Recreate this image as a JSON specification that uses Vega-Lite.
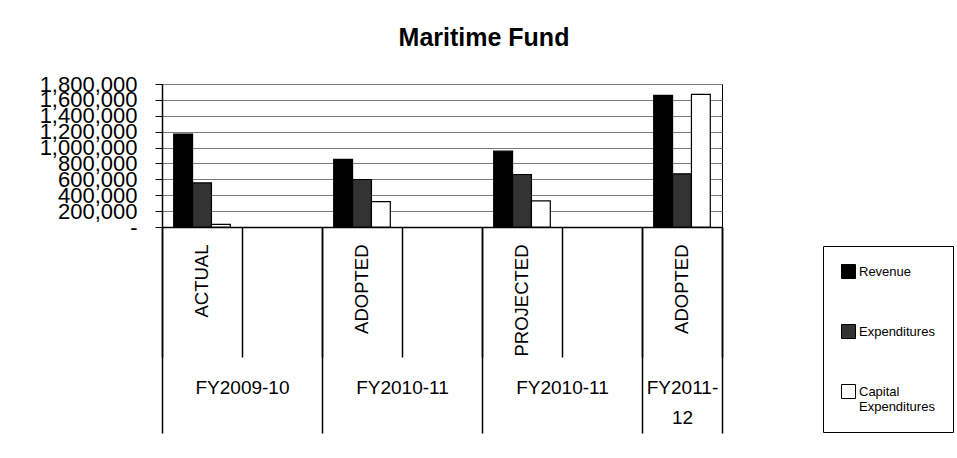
{
  "$schema": "https://vega.github.io/schema/vega-lite/v6.json",
  "width": 560,
  "height": 143,
  "autosize": {"type": "none"},
  "padding": {"left": 162, "top": 84, "right": 235, "bottom": 231},
  "background": "white",
  "title": {"text": "Maritime Fund", "fontSize": 25, "fontWeight": "bold", "font": "Liberation Sans", "color": "#000", "anchor": "middle", "dx": 42, "offset": 22},
  "data": {"values": [
    {"period": "ACTUAL|FY2009-10", "series": "Revenue", "value": 1170000},
    {"period": "ACTUAL|FY2009-10", "series": "Expenditures", "value": 555000},
    {"period": "ACTUAL|FY2009-10", "series": "Capital Expenditures", "value": 32000},
    {"period": "ADOPTED|FY2010-11", "series": "Revenue", "value": 850000},
    {"period": "ADOPTED|FY2010-11", "series": "Expenditures", "value": 598000},
    {"period": "ADOPTED|FY2010-11", "series": "Capital Expenditures", "value": 320000},
    {"period": "PROJECTED|FY2010-11", "series": "Revenue", "value": 955000},
    {"period": "PROJECTED|FY2010-11", "series": "Expenditures", "value": 661000},
    {"period": "PROJECTED|FY2010-11", "series": "Capital Expenditures", "value": 328000},
    {"period": "ADOPTED|FY2011-12", "series": "Revenue", "value": 1657000},
    {"period": "ADOPTED|FY2011-12", "series": "Expenditures", "value": 669000},
    {"period": "ADOPTED|FY2011-12", "series": "Capital Expenditures", "value": 1670000}
  ]},
  "config": {
    "font": "Liberation Sans",
    "view": {"stroke": "#000", "strokeWidth": 1},
    "axis": {"labelColor": "#000", "tickColor": "#000", "domainColor": "#000"}
  },
  "resolve": {"scale": {"x": "independent"}, "axis": {"x": "independent"}},
  "layer": [
    {
      "mark": {"type": "bar", "stroke": "#000", "strokeWidth": 1.2},
      "encoding": {
        "x": {
          "field": "period", "type": "nominal",
          "scale": {"domain": ["ACTUAL|FY2009-10", "gap1", "ADOPTED|FY2010-11", "gap2", "PROJECTED|FY2010-11", "gap3", "ADOPTED|FY2011-12"], "paddingInner": 0, "paddingOuter": 0},
          "axis": {"title": null, "orient": "bottom", "ticks": false, "labelAngle": 270, "labelPadding": 17, "labelFontSize": 18.5, "labelExpr": "indexof(datum.value, 'gap') == 0 ? '' : substring(datum.value, 0, indexof(datum.value, '|'))", "domainColor": "#000", "domainWidth": 1.5, "grid": false, "labelOverlap": false}
        },
        "xOffset": {
          "field": "series", "type": "nominal",
          "sort": ["Revenue", "Expenditures", "Capital Expenditures"],
          "scale": {"paddingInner": 0, "paddingOuter": 0.62}
        },
        "y": {
          "field": "value", "type": "quantitative",
          "scale": {"domain": [0, 1800000], "nice": false},
          "axis": {"title": null, "values": [0, 200000, 400000, 600000, 800000, 1000000, 1200000, 1400000, 1600000, 1800000], "labelExpr": "datum.value == 0 ? '-' : format(datum.value, ',')", "labelFontSize": 22, "labelPadding": 18, "tickSize": 7, "domainWidth": 1.5, "gridColor": "#7a7a7a", "gridWidth": 1, "labelOverlap": false}
        },
        "fill": {
          "field": "series", "type": "nominal",
          "scale": {"domain": ["Revenue", "Expenditures", "Capital Expenditures"], "range": ["#000000", "#333333", "#ffffff"]},
          "legend": {"orient": "none", "legendX": 661, "legendY": 162, "title": null, "strokeColor": "#000", "padding": 18, "rowPadding": 41, "symbolType": "square", "symbolSize": 196, "symbolStrokeColor": "#000", "symbolStrokeWidth": 1, "labelFontSize": 13, "labelColor": "#000", "labelOffset": 3, "labelLimit": 200, "labelExpr": "datum.label == 'Capital Expenditures' ? ['Capital', 'Expenditures'] : datum.label"}
        }
      }
    },
    {
      "mark": {"type": "text"},
      "encoding": {
        "x": {"datum": 0, "type": "quantitative", "scale": {"domain": [0, 7], "nice": false, "zero": false},
          "axis": {"orient": "bottom", "title": null, "values": [0, 1, 2, 3, 4, 5, 6, 7], "labels": false, "domain": false, "grid": false, "ticks": true, "tickSize": 130, "tickWidth": 1.5}},
        "text": {"value": ""}
      }
    },
    {
      "mark": {"type": "text"},
      "encoding": {
        "x": {"datum": 0, "type": "quantitative", "scale": {"domain": [0, 7], "nice": false, "zero": false},
          "axis": {"orient": "bottom", "title": null, "values": [0, 2, 4, 6, 7], "labels": false, "domain": false, "grid": false, "ticks": true, "tickSize": 206, "tickWidth": 1.5}},
        "text": {"value": ""}
      }
    },
    {
      "mark": {"type": "text"},
      "encoding": {
        "x": {"datum": 0, "type": "quantitative", "scale": {"domain": [0, 7], "nice": false, "zero": false},
          "axis": {"orient": "bottom", "title": null, "values": [1, 3, 5, 6.5], "ticks": false, "domain": false, "grid": false, "labelPadding": 151, "labelFontSize": 19, "labelLineHeight": 30, "labelFlush": false, "labelOverlap": false, "labelExpr": "datum.value == 1 ? 'FY2009-10' : datum.value == 3 ? 'FY2010-11' : datum.value == 5 ? 'FY2010-11' : ['FY2011-', '12']"}},
        "text": {"value": ""}
      }
    }
  ]
}
